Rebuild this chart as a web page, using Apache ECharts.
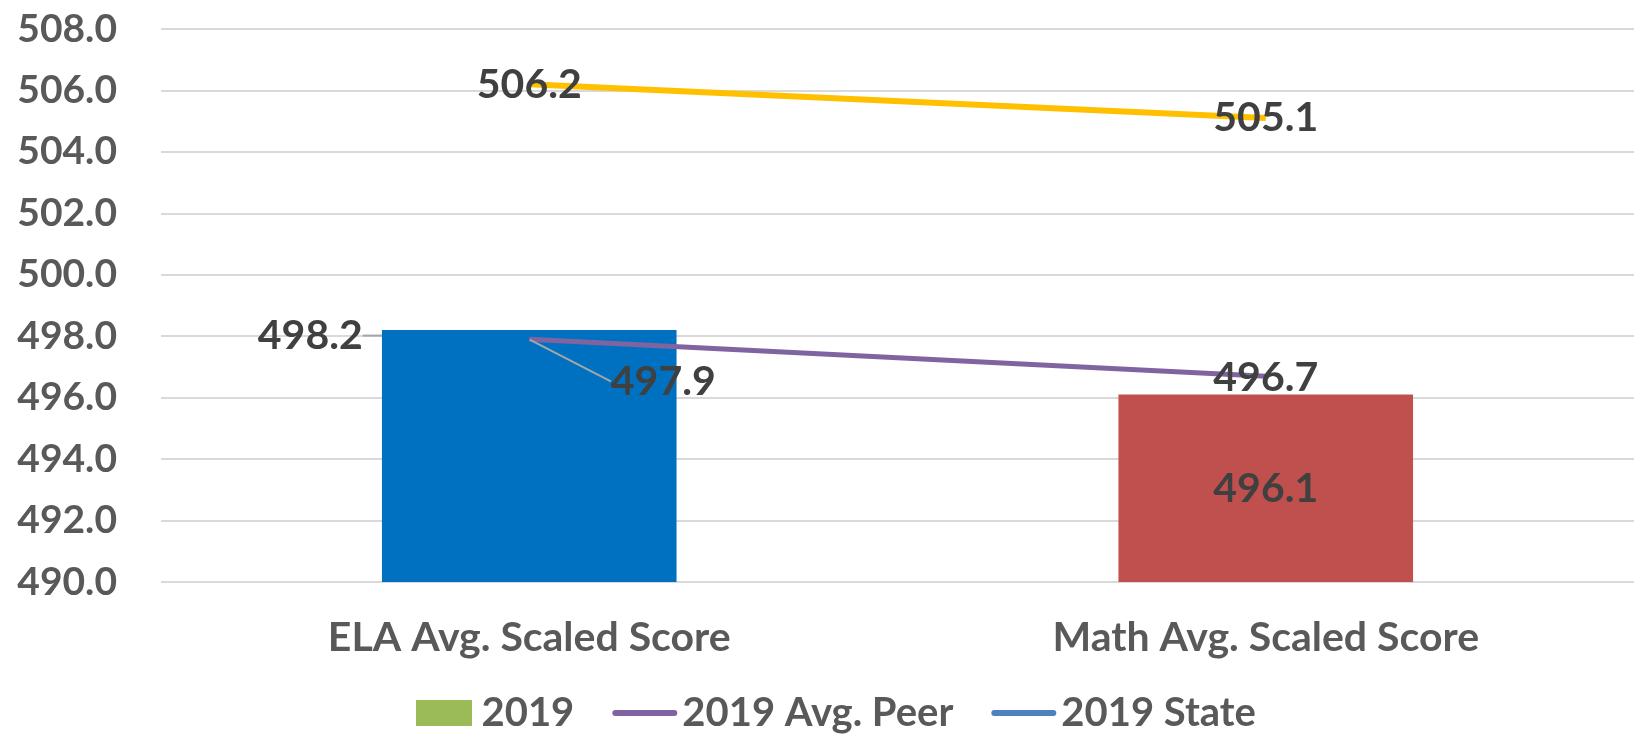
<!DOCTYPE html>
<html>
<head>
<meta charset="utf-8">
<script src="https://cdn.jsdelivr.net/npm/echarts@6/dist/echarts.min.js"></script>
<style>
  html, body { margin: 0; padding: 0; background: #fff; }
  #chart { width: 1634px; height: 738px; }
</style>
</head>
<body>
<div id="chart"></div>
<script>
const categories = ['ELA Avg. Scaled Score', 'Math Avg. Scaled Score']
const scores2019 = [498.2, 496.1]
const peer2019 = [497.9, 496.7]
const state2019 = [506.2, 505.1]
const barColors = ['#0070C0', '#C0504D']

const FONT = 'Lato'
const LABEL_COLOR = '#404040'
const AXIS_COLOR = '#595959'
// legend icons keep their aspect inside the 65x26 item box
const boxIcon = 'path://M0,0 L56,0 L56,26 L0,26 Z'
const lineIcon = 'path://M3,0 L62,0 A3,3 0 0 1 62,6 L3,6 A3,3 0 0 1 3,0 Z'

const chart = echarts.init(document.getElementById('chart'))

const labelBase = {
  show: true,
  fontFamily: FONT,
  fontWeight: 'bold',
  fontSize: 41,
  color: LABEL_COLOR,
  formatter: p => p.value.toFixed(1)
}
const guide = { show: true, lineStyle: { color: '#A6A6A6', width: 2 } }

chart.setOption({
  animation: false,
  grid: { left: 161, right: -6, top: 29, bottom: 156, containLabel: false },
  legend: {
    left: 411,
    bottom: 0,
    itemWidth: 65,
    itemHeight: 26,
    itemGap: 38,
    textStyle: { fontFamily: FONT, fontWeight: 'bold', fontSize: 40, color: AXIS_COLOR },
    data: [
      { name: '2019', icon: boxIcon, itemStyle: { color: '#9BBB59' } },
      { name: '2019 Avg. Peer', icon: lineIcon, itemStyle: { color: '#8064A2' } },
      { name: '2019 State', icon: lineIcon, itemStyle: { color: '#4F81BD' } }
    ]
  },
  xAxis: {
    type: 'category',
    data: categories,
    axisLine: { show: false },
    axisTick: { show: false },
    axisLabel: { margin: 35, fontFamily: FONT, fontWeight: 'bold', fontSize: 41, color: AXIS_COLOR }
  },
  yAxis: {
    type: 'value',
    min: 490,
    max: 508,
    interval: 2,
    axisLine: { show: false },
    axisTick: { show: false },
    splitLine: { lineStyle: { color: '#D9D9D9', width: 2 } },
    axisLabel: {
      margin: 44,
      fontFamily: FONT, fontWeight: 'bold', fontSize: 39, color: AXIS_COLOR,
      formatter: v => v.toFixed(1)
    }
  },
  series: [
    {
      name: '2019',
      type: 'bar',
      barWidth: '40%',
      data: scores2019.map((v, i) => ({
        value: v,
        itemStyle: { color: barColors[i] },
        label: { position: i === 0 ? 'top' : 'inside' },
        labelLine: { show: i === 0 }
      })),
      label: labelBase,
      labelLine: guide,
      labelLayout: p => p.dataIndex === 0 ? { dx: -219, dy: 31 } : {}
    },
    {
      name: '2019 Avg. Peer',
      type: 'line',
      data: peer2019.map((v, i) => ({ value: v, labelLine: { show: i === 0 } })),
      symbol: 'circle',
      symbolSize: 1,
      itemStyle: { color: '#8064A2' },
      lineStyle: { color: '#8064A2', width: 5 },
      label: { ...labelBase, position: 'inside' },
      labelLine: guide,
      labelLayout: p => p.dataIndex === 0 ? { dx: 134, dy: 42 } : { dy: 2 },
      z: 3
    },
    {
      name: '2019 State',
      type: 'line',
      data: state2019,
      symbol: 'circle',
      symbolSize: 1,
      itemStyle: { color: '#FFC000' },
      lineStyle: { color: '#FFC000', width: 6 },
      label: { ...labelBase, position: 'inside' },
      z: 3
    }
  ]
})
</script>
</body>
</html>
